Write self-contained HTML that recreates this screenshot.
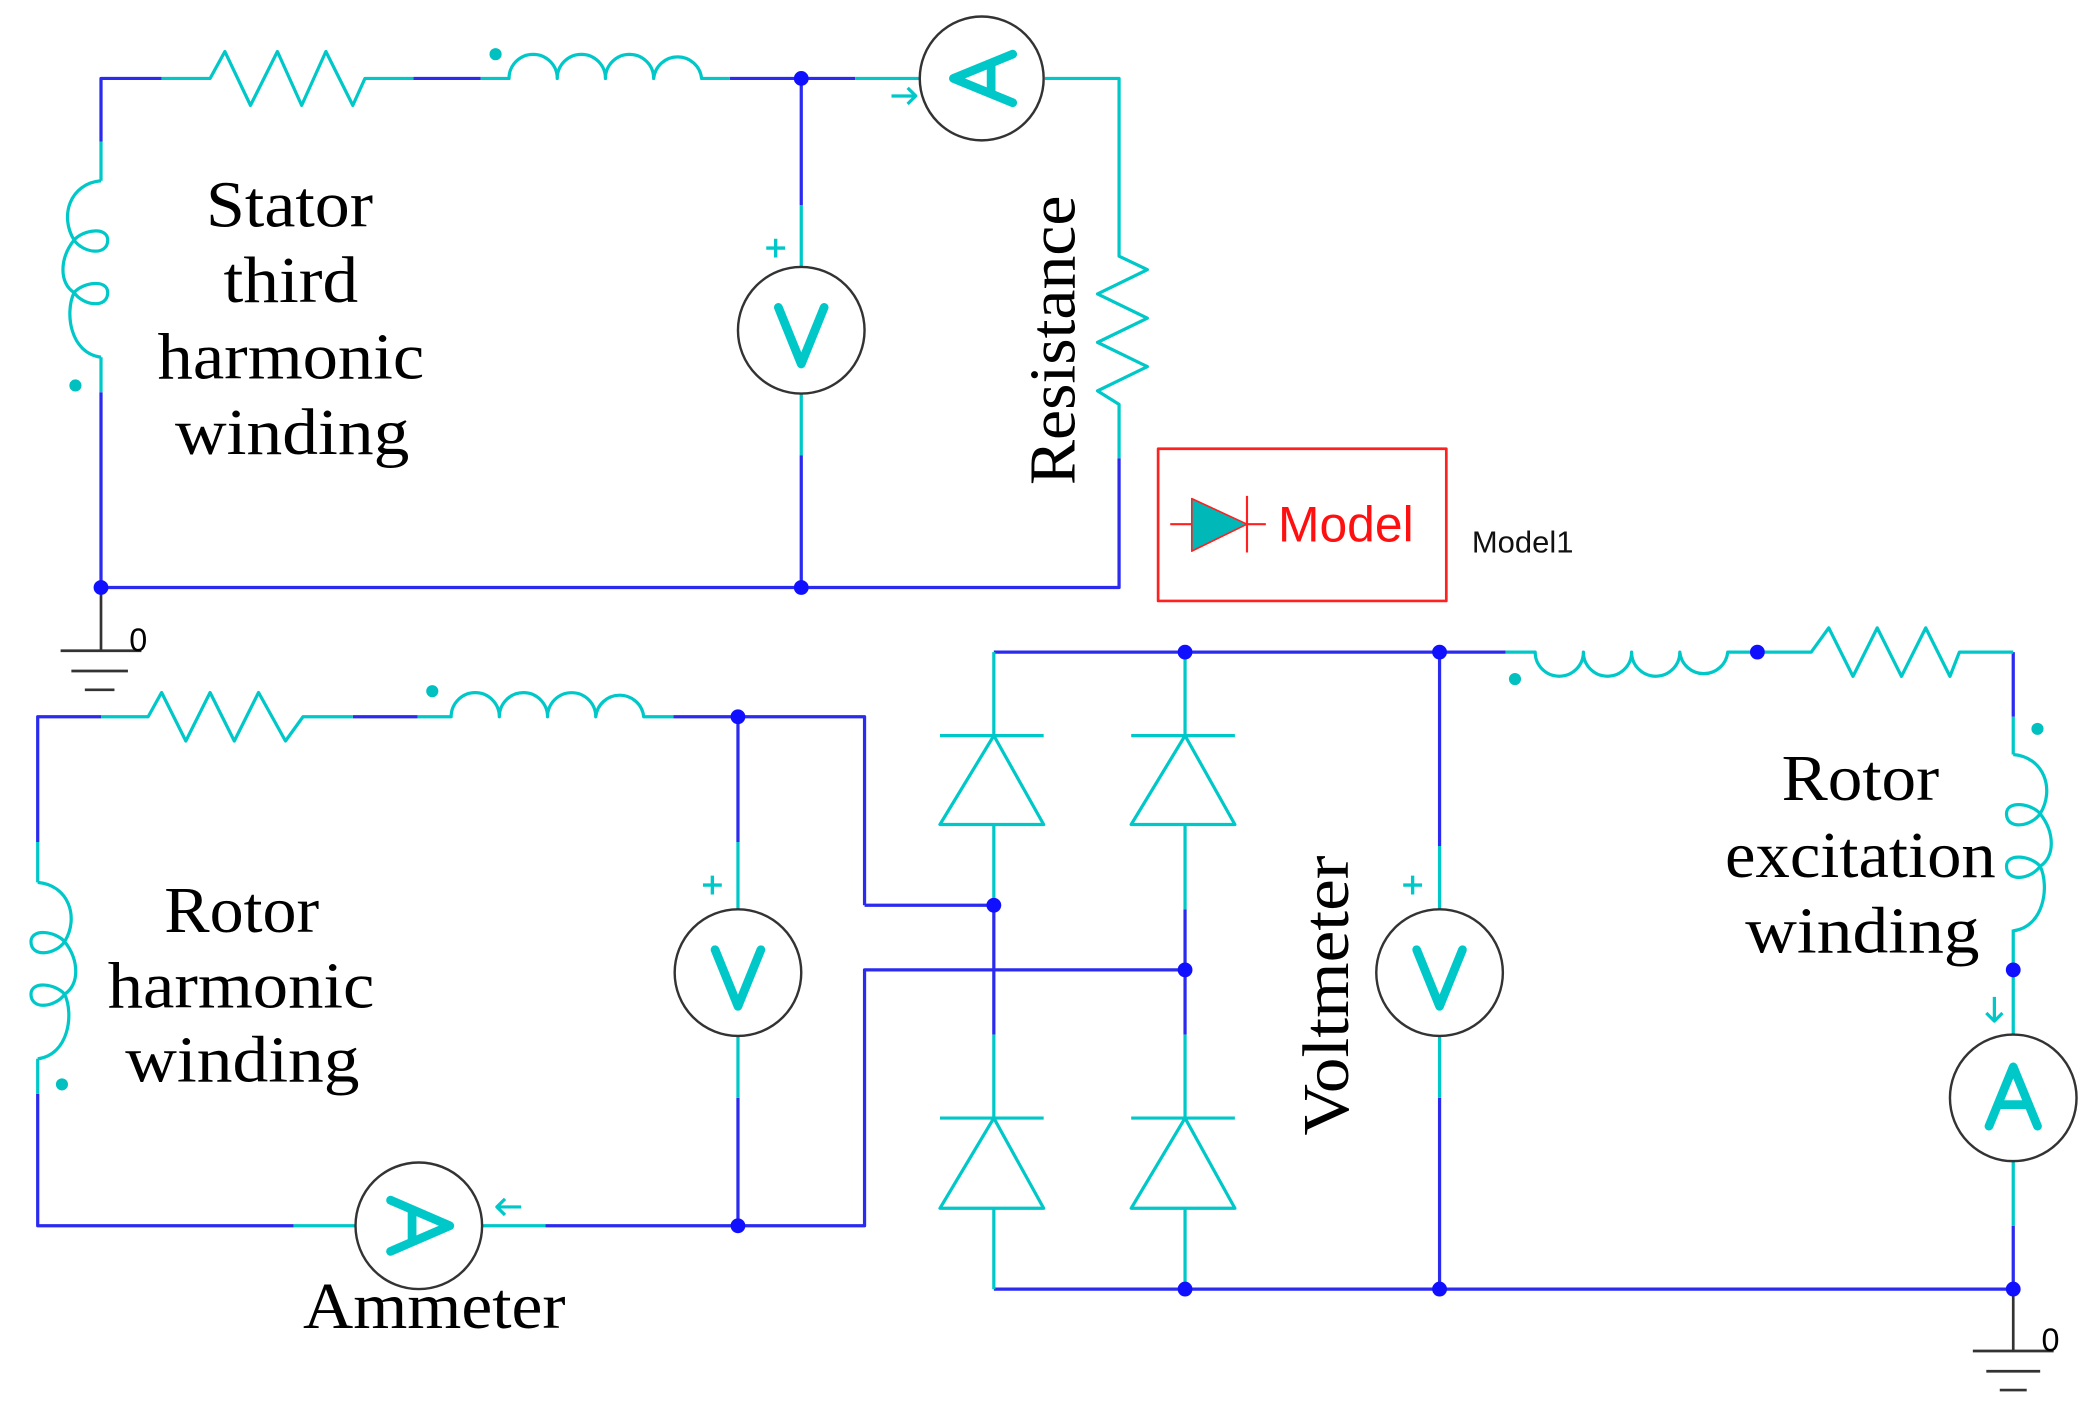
<!DOCTYPE html>
<html><head><meta charset="utf-8"><style>
html,body{margin:0;padding:0;background:#fff}
svg{display:block}
text{font-family:"Liberation Serif",serif;fill:#000}
</style></head><body>
<svg width="2090" height="1416" viewBox="0 0 1552 1051" xmlns="http://www.w3.org/2000/svg">
<defs>
<path id="coil" d="M0,0 C-23,2 -31,26 -20,44 C-13,36 5,34 5,44 C5,56 -13,54 -20,44 C-31,58 -31,76 -20,83 C-13,75 5,73 5,83 C5,95 -13,93 -20,83 C-27,98 -23,128 0,131"/>
</defs>
<g fill="none" stroke-width="2.4" stroke-linejoin="round">
<g stroke="#2b2bf0">
<path d="M120,58 H75 V105 M75,291 V436 H831 V340"/>
<path d="M307,58 H357 M542,58 H635"/>
<path d="M595,58 V152 M595,338 V436"/>
</g>
<g stroke="#00c8c8">
<path d="M120,58 H156 L167,38 L186,78 L206,38 L224,78 L242,38 L262,78 L271,58 H307"/>
<path d="M357,58 H378 A17.9,17.9 0 0 1 413.8,58 A17.9,17.9 0 0 1 449.6,58 A17.9,17.9 0 0 1 485.4,58 A17.9,17.9 0 0 1 521,58 H542"/>
<path d="M635,58 H683 M776,58 H831 V190 L852,200 L815,218 L852,236 L815,254 L852,272 L815,290 L831,300 V340"/>
<path d="M595,152 V198 M595,292 V338"/>
<path d="M75,105 V134"/>
<use href="#coil" transform="translate(75,134)"/>
<path d="M75,265 V291"/>
<path d="M662,71 H680 M674,65 L680,71 L674,77"/>
</g>
<g stroke="#2b2bf0">
<path d="M75,532 H28 V625 M28,812 V910 H218 M405,910 H642 V720 H880 M642,672 V532 H500"/>
<path d="M262,532 H310 M642,672 H738"/>
<path d="M548,532 V625 M548,815 V910"/>
</g>
<g stroke="#00c8c8">
<path d="M75,532 H110 L120,514 L138,550 L156,514 L174,550 L192,514 L212,550 L225,532 H262"/>
<path d="M310,532 H335 A17.9,17.9 0 0 1 370.8,532 A17.9,17.9 0 0 1 406.6,532 A17.9,17.9 0 0 1 442.4,532 A17.9,17.9 0 0 1 478,532 H500"/>
<path d="M28,625 V655 M28,786 V812"/>
<use href="#coil" transform="translate(28,655) scale(-1,1)"/>
<path d="M218,910 H264 M358,910 H405"/>
<path d="M548,625 V675 M548,769 V815"/>
<path d="M387,896 H369 M375,890 L369,896 L375,902"/>
</g>
<g stroke="#2b2bf0">
<path d="M738,484 H1118 M738,957 H1495"/>
<path d="M738,672 V768 M880,675 V768"/>
<path d="M1069,484 V628 M1069,815 V957"/>
<path d="M1495,484 V532 M1495,910 V957"/>
</g>
<g stroke="#00c8c8">
<path d="M738,484 V546 M698,546 H775 M738,546 L698,612 H775 Z M738,612 V672"/>
<path d="M880,484 V546 M840,546 H917 M880,546 L840,612 H917 Z M880,612 V675"/>
<path d="M738,768 V830 M698,830 H775 M738,830 L698,897 H775 Z M738,897 V957"/>
<path d="M880,768 V830 M840,830 H917 M880,830 L840,897 H917 Z M880,897 V957"/>
<path d="M1069,628 V675 M1069,769 V815"/>
<path d="M1118,484 H1140 A17.9,17.9 0 0 0 1175.8,484 A17.9,17.9 0 0 0 1211.6,484 A17.9,17.9 0 0 0 1247.4,484 A17.9,17.9 0 0 0 1283,484 H1345 L1358,466 L1376,502 L1394,466 L1412,502 L1430,466 L1448,502 L1455,484 H1495"/>
<path d="M1495,532 V560 M1495,690 V768 M1495,862 V910"/>
<use href="#coil" transform="translate(1495,560) scale(-1,1)"/>
<path d="M1481,740 V758 M1475,752 L1481,758 L1487,752"/>
</g>
<g stroke="#333" stroke-width="1.8">
<circle cx="729" cy="58" r="46"/>
<circle cx="595" cy="245" r="47"/>
<circle cx="548" cy="722" r="47"/>
<circle cx="311" cy="910" r="47"/>
<circle cx="1069" cy="722" r="47"/>
<circle cx="1495" cy="815" r="47"/>
</g>
<g stroke="#00c8c8" stroke-width="6.5" stroke-linecap="round" stroke-linejoin="round">
<path d="M578,228 L595,270 L612,228"/>
<path d="M531,705 L548,747 L565,705"/>
<path d="M1052,705 L1069,747 L1086,705"/>
<path d="M1477,836 L1495,792 L1513,836 M1484,820 H1506"/>
<path d="M752,40 L708,58 L752,76 M736,47 V69"/>
<path d="M290,891 L334,910 L290,929 M306,898 V922"/>
</g>
<g stroke="#00c8c8" stroke-width="2.5">
<path d="M576,177 V191 M569,184 H583"/>
<path d="M529,650 V664 M522,657 H536"/>
<path d="M1049,650 V664 M1042,657 H1056"/>
</g>
<g stroke="#333" stroke-width="2">
<path d="M75,436 V483 M45,483 H105 M53,498 H95 M63,512 H85"/>
<path d="M1495,957 V1003 M1465,1003 H1525 M1475,1018 H1515 M1485,1032 H1505"/>
</g>
<rect x="860" y="333" width="214" height="113" stroke="#ff2020" stroke-width="2"/>
<path d="M869,389 H940 M926,368 V410" stroke="#ff2020" stroke-width="1.6"/>
<path d="M885,370 L926,389 L885,409 Z" fill="#00b8b8" stroke="#ff2020" stroke-width="1.2"/>
</g>
<g fill="#1010ff">
<circle cx="595" cy="58" r="5.5"/><circle cx="75" cy="436" r="5.5"/><circle cx="595" cy="436" r="5.5"/>
<circle cx="548" cy="532" r="5.5"/><circle cx="548" cy="910" r="5.5"/>
<circle cx="880" cy="484" r="5.5"/><circle cx="1069" cy="484" r="5.5"/><circle cx="1305" cy="484" r="5.5"/>
<circle cx="738" cy="672" r="5.5"/><circle cx="880" cy="720" r="5.5"/>
<circle cx="880" cy="957" r="5.5"/><circle cx="1069" cy="957" r="5.5"/><circle cx="1495" cy="957" r="5.5"/>
<circle cx="1495" cy="720" r="5.5"/>
</g>
<g fill="#00c0c0">
<circle cx="368" cy="40" r="4.5"/><circle cx="56" cy="286" r="4.5"/>
<circle cx="321" cy="513" r="4.5"/><circle cx="46" cy="805" r="4.5"/>
<circle cx="1125" cy="504" r="4.5"/><circle cx="1513" cy="541" r="4.5"/>
</g>
<g font-size="49" lengthAdjust="spacingAndGlyphs">
<text x="153" y="168" textLength="124" lengthAdjust="spacingAndGlyphs">Stator</text>
<text x="166" y="224" textLength="100" lengthAdjust="spacingAndGlyphs">third</text>
<text x="117" y="281" textLength="198" lengthAdjust="spacingAndGlyphs">harmonic</text>
<text x="130" y="337" textLength="174" lengthAdjust="spacingAndGlyphs">winding</text>
<text x="122" y="692" textLength="115" lengthAdjust="spacingAndGlyphs">Rotor</text>
<text x="80" y="748" textLength="198" lengthAdjust="spacingAndGlyphs">harmonic</text>
<text x="93" y="803" textLength="174" lengthAdjust="spacingAndGlyphs">winding</text>
<text x="1323" y="594" textLength="117" lengthAdjust="spacingAndGlyphs">Rotor</text>
<text x="1281" y="651" textLength="201" lengthAdjust="spacingAndGlyphs">excitation</text>
<text x="1296" y="707" textLength="174" lengthAdjust="spacingAndGlyphs">winding</text>
<text x="225" y="986" textLength="195" lengthAdjust="spacingAndGlyphs">Ammeter</text>
<text transform="translate(798,360) rotate(-90)" textLength="215" lengthAdjust="spacingAndGlyphs">Resistance</text>
<text transform="translate(1001,843) rotate(-90)" textLength="208" lengthAdjust="spacingAndGlyphs">Voltmeter</text>
</g>
<text x="96" y="483" font-size="24" style="font-family:'Liberation Sans',sans-serif">0</text>
<text x="1516" y="1003" font-size="24" style="font-family:'Liberation Sans',sans-serif">0</text>
<text x="949" y="402" font-size="37" style="font-family:'Liberation Sans',sans-serif;fill:#ff1010">Model</text>
<text x="1093" y="410" font-size="23" style="font-family:'Liberation Sans',sans-serif;fill:#111">Model1</text>
</svg>
</body></html>
